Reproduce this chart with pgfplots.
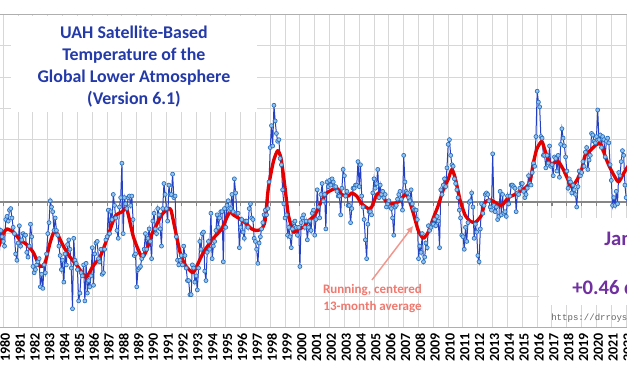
\documentclass[border=0pt]{standalone}
\usepackage{fontspec}
\setmainfont{Carlito}
\newfontfamily\wmfont{Liberation Mono}
\usepackage{pgfplots}
\pgfplotsset{compat=1.18}
\usepackage{pgfplotstable}
\usetikzlibrary{arrows.meta}
\definecolor{gridgray}{RGB}{215,215,215}
\definecolor{zerogray}{RGB}{134,134,134}
\definecolor{bordergray}{RGB}{175,175,175}
\definecolor{titleblue}{RGB}{36,58,168}
\definecolor{uahline}{RGB}{36,64,196}
\definecolor{uahmarkfill}{RGB}{150,195,235}
\definecolor{uahmarkdraw}{RGB}{40,110,190}
\definecolor{avgred}{RGB}{228,0,0}
\definecolor{notered}{RGB}{240,120,110}
\definecolor{arrowred}{RGB}{242,150,140}
\definecolor{latestpurple}{RGB}{112,48,160}
\definecolor{wmgray}{RGB}{100,100,100}

% UAH monthly global lower-troposphere anomalies, Jan 1979 onward (one year per line)
\pgfplotstableread[row sep=\\]{
v\\
-0.38\\ -0.48\\ -0.35\\ -0.40\\ -0.38\\ -0.30\\ -0.35\\ -0.36\\ -0.25\\ -0.30\\ -0.18\\ -0.22\\
-0.25\\ -0.28\\ -0.11\\ -0.09\\ -0.12\\ -0.05\\ -0.04\\ -0.10\\ -0.16\\ -0.20\\ -0.33\\ -0.37\\
-0.26\\ -0.15\\ -0.28\\ -0.24\\ -0.20\\ -0.21\\ -0.21\\ -0.32\\ -0.35\\ -0.28\\ -0.14\\ -0.22\\
-0.41\\ -0.45\\ -0.43\\ -0.40\\ -0.38\\ -0.36\\ -0.54\\ -0.46\\ -0.55\\ -0.40\\ -0.45\\ -0.33\\
-0.20\\ -0.13\\ 0.01\\ -0.03\\ -0.06\\ -0.18\\ -0.10\\ -0.18\\ -0.21\\ -0.28\\ -0.34\\ -0.43\\
-0.37\\ -0.51\\ -0.33\\ -0.40\\ -0.27\\ -0.24\\ -0.30\\ -0.42\\ -0.68\\ -0.23\\ -0.37\\ -0.39\\
-0.43\\ -0.63\\ -0.58\\ -0.45\\ -0.47\\ -0.40\\ -0.63\\ -0.39\\ -0.58\\ -0.50\\ -0.54\\ -0.47\\
-0.29\\ -0.53\\ -0.33\\ -0.26\\ -0.25\\ -0.36\\ -0.38\\ -0.30\\ -0.46\\ -0.45\\ -0.30\\ -0.24\\
-0.22\\ -0.05\\ -0.20\\ -0.06\\ -0.11\\ 0.05\\ -0.02\\ -0.10\\ -0.18\\ -0.23\\ -0.03\\ 0.03\\
0.25\\ -0.20\\ 0.03\\ -0.01\\ -0.04\\ 0.03\\ 0.04\\ -0.02\\ 0.04\\ -0.11\\ -0.34\\ -0.33\\
-0.54\\ -0.43\\ -0.42\\ -0.41\\ -0.36\\ -0.34\\ -0.30\\ -0.20\\ -0.30\\ -0.23\\ -0.17\\ -0.25\\
-0.36\\ -0.12\\ -0.07\\ -0.17\\ -0.20\\ -0.04\\ -0.08\\ -0.17\\ -0.28\\ -0.04\\ 0.12\\ 0.05\\
-0.04\\ -0.12\\ 0.11\\ 0.05\\ 0.05\\ 0.18\\ 0.03\\ 0.04\\ -0.22\\ -0.37\\ -0.40\\ -0.37\\
-0.34\\ -0.40\\ -0.28\\ -0.34\\ -0.42\\ -0.50\\ -0.50\\ -0.59\\ -0.59\\ -0.40\\ -0.42\\ -0.51\\
-0.47\\ -0.56\\ -0.42\\ -0.25\\ -0.30\\ -0.20\\ -0.19\\ -0.44\\ -0.50\\ -0.32\\ -0.25\\ -0.30\\
-0.07\\ -0.36\\ -0.28\\ -0.25\\ -0.18\\ -0.08\\ -0.16\\ -0.10\\ -0.06\\ -0.06\\ -0.38\\ -0.04\\
-0.16\\ -0.02\\ 0.01\\ -0.05\\ -0.04\\ 0.05\\ -0.06\\ 0.15\\ 0.06\\ -0.07\\ -0.07\\ -0.29\\
-0.16\\ -0.11\\ -0.19\\ -0.23\\ -0.12\\ -0.12\\ -0.16\\ -0.04\\ -0.01\\ -0.10\\ -0.11\\ -0.23\\
-0.25\\ -0.30\\ -0.39\\ -0.26\\ -0.22\\ -0.17\\ -0.13\\ -0.08\\ -0.05\\ -0.08\\ -0.04\\ 0.13\\
0.35\\ 0.49\\ 0.36\\ 0.62\\ 0.52\\ 0.44\\ 0.39\\ 0.40\\ 0.28\\ 0.24\\ 0.08\\ -0.01\\
-0.10\\ -0.08\\ -0.21\\ -0.16\\ -0.22\\ -0.29\\ -0.17\\ -0.13\\ -0.12\\ -0.16\\ -0.21\\ -0.16\\
-0.41\\ -0.13\\ -0.10\\ -0.08\\ -0.16\\ -0.12\\ -0.24\\ -0.16\\ -0.12\\ -0.18\\ -0.07\\ -0.05\\
-0.21\\ -0.11\\ 0.08\\ -0.03\\ -0.10\\ 0.05\\ 0.12\\ 0.01\\ 0.05\\ -0.17\\ 0.13\\ 0.10\\
0.14\\ 0.11\\ 0.15\\ 0.13\\ 0.10\\ 0.10\\ 0.07\\ 0.04\\ 0.04\\ -0.08\\ 0.09\\ 0.21\\
0.17\\ 0.04\\ 0.07\\ -0.02\\ -0.02\\ -0.13\\ -0.04\\ 0.09\\ 0.09\\ 0.11\\ 0.11\\ 0.26\\
0.10\\ 0.24\\ 0.04\\ -0.03\\ -0.11\\ -0.24\\ -0.36\\ -0.14\\ -0.06\\ -0.06\\ -0.08\\ 0.06\\
0.15\\ 0.09\\ 0.12\\ 0.21\\ 0.03\\ 0.11\\ 0.05\\ 0.07\\ 0.03\\ 0.05\\ -0.03\\ -0.01\\
0.01\\ -0.03\\ -0.04\\ -0.10\\ -0.21\\ -0.03\\ -0.02\\ 0.02\\ 0.05\\ 0.07\\ 0.02\\ -0.05\\
0.30\\ 0.13\\ 0.07\\ 0.06\\ 0.03\\ 0.01\\ 0.08\\ -0.01\\ -0.04\\ -0.05\\ -0.05\\ -0.11\\
-0.36\\ -0.28\\ -0.32\\ -0.20\\ -0.38\\ -0.35\\ -0.26\\ -0.29\\ -0.15\\ -0.18\\ -0.16\\ -0.14\\
-0.14\\ -0.11\\ -0.15\\ -0.09\\ -0.12\\ -0.29\\ 0.08\\ 0.05\\ 0.11\\ 0.15\\ 0.10\\ 0.22\\
0.37\\ 0.40\\ 0.30\\ 0.24\\ 0.23\\ 0.15\\ 0.12\\ 0.08\\ 0.03\\ -0.05\\ -0.10\\ -0.21\\
-0.22\\ -0.30\\ -0.16\\ -0.25\\ -0.13\\ 0.00\\ 0.01\\ 0.06\\ -0.03\\ -0.23\\ -0.14\\ -0.19\\
-0.34\\ -0.38\\ -0.17\\ -0.01\\ -0.07\\ -0.02\\ 0.05\\ 0.06\\ 0.05\\ 0.01\\ -0.03\\ -0.05\\
0.31\\ -0.02\\ -0.06\\ -0.03\\ -0.11\\ -0.09\\ 0.07\\ -0.08\\ 0.05\\ -0.07\\ -0.06\\ -0.09\\
0.04\\ -0.01\\ 0.04\\ 0.11\\ 0.11\\ 0.10\\ 0.09\\ -0.06\\ 0.06\\ 0.05\\ 0.09\\ 0.12\\
0.12\\ 0.07\\ 0.03\\ 0.05\\ 0.09\\ 0.17\\ 0.12\\ 0.11\\ 0.19\\ 0.25\\ 0.23\\ 0.42\\
0.71\\ 0.64\\ 0.61\\ 0.42\\ 0.41\\ 0.30\\ 0.30\\ 0.22\\ 0.30\\ 0.25\\ 0.36\\ 0.23\\
0.24\\ 0.17\\ 0.29\\ 0.28\\ 0.20\\ 0.30\\ 0.16\\ 0.37\\ 0.47\\ 0.41\\ 0.36\\ 0.29\\
0.20\\ 0.09\\ 0.15\\ 0.13\\ 0.06\\ 0.11\\ 0.08\\ 0.05\\ -0.03\\ 0.10\\ 0.20\\ 0.17\\
0.19\\ 0.26\\ 0.23\\ 0.32\\ 0.35\\ 0.21\\ 0.27\\ 0.30\\ 0.44\\ 0.43\\ 0.39\\ 0.38\\
0.42\\ 0.59\\ 0.40\\ 0.43\\ 0.35\\ 0.42\\ 0.40\\ 0.29\\ 0.39\\ 0.41\\ 0.38\\ 0.24\\
0.14\\ -0.02\\ 0.03\\ -0.02\\ 0.07\\ -0.01\\ 0.19\\ 0.17\\ 0.26\\ 0.33\\ 0.30\\ 0.11\\
0.03\\ 0.00\\ 0.15\\
}\uah

% Running, centered 13-month average
\pgfplotstableread[row sep=\\]{
t v\\
1979.60 -0.30\\ 1979.78 -0.26\\ 1980.00 -0.20\\ 1980.23 -0.17\\ 1980.67 -0.19\\
1981.13 -0.24\\ 1981.58 -0.27\\ 1982.02 -0.32\\ 1982.47 -0.41\\ 1982.81 -0.39\\
1983.15 -0.26\\ 1983.49 -0.18\\ 1984.05 -0.28\\ 1984.50 -0.35\\ 1985.02 -0.41\\
1985.58 -0.48\\ 1986.03 -0.41\\ 1986.52 -0.35\\ 1987.01 -0.23\\ 1987.53 -0.09\\
1988.02 -0.06\\ 1988.32 -0.04\\ 1988.77 -0.22\\ 1989.33 -0.35\\ 1989.65 -0.31\\
1990.03 -0.20\\ 1990.30 -0.15\\ 1990.68 -0.08\\ 1991.13 -0.04\\ 1991.31 -0.05\\
1991.58 -0.17\\ 1991.92 -0.32\\ 1992.25 -0.40\\ 1992.77 -0.45\\ 1993.04 -0.41\\
1993.49 -0.32\\ 1994.16 -0.23\\ 1994.73 -0.17\\ 1995.06 -0.10\\ 1995.29 -0.06\\
1995.51 -0.08\\ 1995.85 -0.10\\ 1996.30 -0.13\\ 1996.75 -0.17\\ 1997.09 -0.18\\
1997.42 -0.17\\ 1997.65 -0.12\\ 1997.87 0.09\\ 1998.21 0.26\\ 1998.50 0.33\\
1998.73 0.28\\ 1999.00 0.09\\ 1999.22 -0.08\\ 1999.56 -0.19\\ 1999.89 -0.17\\
2000.23 -0.16\\ 2000.57 -0.12\\ 2001.02 -0.08\\ 2001.36 -0.01\\ 2001.81 0.06\\
2002.48 0.09\\ 2002.82 0.05\\ 2003.27 0.04\\ 2003.49 0.06\\ 2003.83 0.04\\
2004.17 -0.01\\ 2004.61 -0.04\\ 2004.84 -0.03\\ 2005.18 0.05\\ 2005.45 0.06\\
2005.85 0.00\\ 2006.30 -0.01\\ 2006.75 0.01\\ 2007.09 0.05\\ 2007.31 0.03\\
2007.65 -0.07\\ 2007.98 -0.18\\ 2008.32 -0.23\\ 2008.66 -0.19\\ 2009.00 -0.10\\
2009.33 -0.02\\ 2009.67 0.08\\ 2010.01 0.15\\ 2010.24 0.21\\ 2010.46 0.16\\
2010.80 0.015\\ 2011.13 -0.08\\ 2011.47 -0.12\\ 2011.80 -0.13\\ 2012.03 -0.11\\
2012.26 -0.08\\ 2012.48 0.00\\ 2012.82 0.015\\ 2013.16 0.00\\ 2013.49 -0.02\\
2013.72 -0.01\\ 2014.05 0.03\\ 2014.50 0.05\\ 2014.84 0.07\\ 2015.18 0.09\\
2015.51 0.13\\ 2015.74 0.25\\ 2015.97 0.34\\ 2016.31 0.39\\ 2016.53 0.33\\
2016.86 0.25\\ 2017.09 0.25\\ 2017.43 0.26\\ 2017.76 0.21\\ 2018.10 0.14\\
2018.33 0.10\\ 2018.67 0.14\\ 2019.00 0.21\\ 2019.23 0.30\\ 2019.56 0.33\\
2020.01 0.37\\ 2020.30 0.37\\ 2020.68 0.27\\ 2021.02 0.20\\ 2021.47 0.13\\
2021.80 0.18\\ 2022.05 0.22\\ 2022.20 0.24\\
}\runavg

\begin{document}
\begin{tikzpicture}
\useasboundingbox (0pt,-36.375pt) rectangle (470.25pt,245.625pt);
\begin{axis}[
  at={(0pt,0pt)}, anchor=south west,
  scale only axis, width=470.25pt, height=234.75pt,
  xmin=1979.7775, xmax=2022.0567, ymin=-0.8, ymax=1.2,
  separate axis lines,
  x axis line style={draw=bordergray, line width=1.1pt},
  y axis line style={draw=none},
  xtick={1980,...,2022},
  xticklabels={1980,1981,1982,1983,1984,1985,1986,1987,1988,1989,1990,1991,1992,1993,1994,1995,1996,1997,1998,1999,2000,2001,2002,2003,2004,2005,2006,2007,2008,2009,2010,2011,2012,2013,2014,2015,2016,2017,2018,2019,2020,2021,2022},
  ytick={-0.6,-0.4,-0.2,0,0.2,0.4,0.6,0.8,1.0},
  yticklabel={},
  tick style={draw=none},
  grid=major,
  major grid style={draw=gridgray, line width=0.75pt},
  xticklabel style={xshift=1.4pt, rotate=90, anchor=east, inner sep=0pt, text=black,
    font=\bfseries\fontsize{10.5}{12}\selectfont},
  xticklabel shift=4pt,
  clip=true,
]
% white text boxes that hide the grid
\fill[white] (axis cs:1980.55,0.577) rectangle (axis cs:1997.107,1.19);
\fill[white] (axis cs:2016.122,-0.656) rectangle (axis cs:2023,-0.100);
% zero line with small year ticks
\draw[zerogray, line width=1.5pt] (axis cs:1979.5,0) -- (axis cs:2022.5,0);
\pgfplotsinvokeforeach{1980,...,2022}{
  \draw[zerogray, line width=0.8pt] (axis cs:#1,0) -- ++(0pt,-3pt);
}
% monthly series
\addplot[color=uahline, line width=0.75pt, mark=*, mark size=1.5pt,
  mark options={draw=uahmarkdraw, fill=uahmarkfill, line width=0.5pt}]
  table[x expr={1979+\coordindex/12}, y=v] {\uah};
% running average
\addplot[color=avgred, line width=2.5pt, line join=round, smooth, tension=0.35]
  table[x=t, y=v] {\runavg};
% texts
\node[align=center, text=titleblue, font=\bfseries\fontsize{13.4}{16.5}\selectfont]
  at (axis cs:1988.81,0.868)
  {UAH Satellite-Based\\Temperature of the\\Global Lower Atmosphere\\(Version 6.1)};
\node[align=center, text=notered, font=\bfseries\fontsize{9.75}{12.75}\selectfont]
  at (axis cs:2004.895,-0.614) {Running, centered\\13-month average};
\draw[arrowred, line width=1.1pt, -{Triangle[length=5pt,width=4.5pt]}]
  (axis cs:2004.86,-0.4965) -- (axis cs:2007.626,-0.152);
\node[anchor=base west, inner sep=0pt, text=latestpurple,
  font=\bfseries\fontsize{15.5}{18}\selectfont]
  at (axis cs:2020.505,-0.273) {January 2025:};
\node[anchor=base west, inner sep=0pt, text=latestpurple,
  font=\bfseries\fontsize{15.5}{18}\selectfont]
  at (axis cs:2018.348,-0.592) {+0.46 deg. C};
\node[anchor=base west, inner sep=0pt, text=wmgray,
  font=\wmfont\fontsize{6.8}{8}\selectfont]
  at (axis cs:2016.932,-0.758) {https://drroyspencer.com};
\end{axis}
\end{tikzpicture}
\end{document}
